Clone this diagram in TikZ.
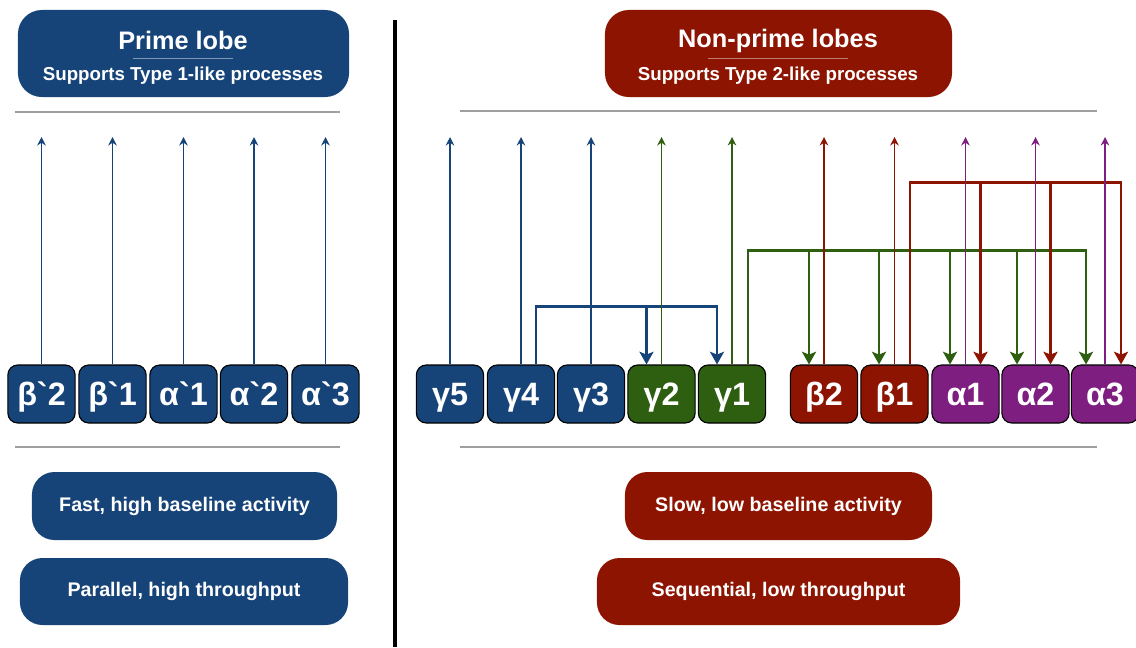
\documentclass[tikz,border=0pt]{standalone}
\usepackage{fontspec}
\setmainfont{Liberation Sans}
\usetikzlibrary{calc,arrows.meta}
\definecolor{lobeblue}{RGB}{22,68,120}
\definecolor{lobered}{RGB}{140,20,0}
\definecolor{lobegreen}{RGB}{46,94,16}
\definecolor{lobepurple}{RGB}{125,30,128}

\tikzset{
  cell/.style={draw=black, line width=0.8pt, rounded corners=7pt, minimum width=1.68cm, minimum height=1.45cm,
    inner sep=0pt, text depth=0pt, text=white, font=\fontsize{23}{23}\selectfont\bfseries},
  headbox/.style={rounded corners=17pt, minimum height=2.175cm, inner sep=0pt},
  headtitle/.style={anchor=base, text=white, font=\fontsize{18}{18}\selectfont\bfseries},
  headsub/.style={anchor=base, text=white, font=\fontsize{13.3}{13.3}\selectfont\bfseries},
  pill/.style={rounded corners=16pt, inner sep=0pt, text=white, font=\fontsize{14}{14}\selectfont\bfseries},
  sepline/.style={draw=gray!75, line width=1.5pt},
  outarrow/.style={-{Stealth[length=6pt,width=6pt]}, line width=1pt},
  drive/.style={-{Stealth[length=9pt,width=10pt,inset=2pt]}, line width=2pt}
}

\begin{document}
\begin{tikzpicture}[x=0.025cm, y=-0.025cm]
  \useasboundingbox (0,0) rectangle (1136,647);

  % divider
  \draw[line width=2.2pt] (395,20) -- (395,647);

  % headers
  \node[headbox, fill=lobeblue, minimum width=8.275cm] (prime) at (183.5,53.5) {};
  \node[headtitle] (primetitle) at (183,49) {Prime lobe};
  \draw[white!45!lobeblue, line width=0.6pt] (133,58) -- (233,58);
  \node[headsub] (primesub) at (183,80) {Supports Type 1-like processes};

  \node[headbox, fill=lobered, minimum width=8.675cm] (nonprime) at (778.5,53.5) {};
  \node[headtitle] (nonprimetitle) at (778,47) {Non-prime lobes};
  \draw[white!45!lobered, line width=0.6pt] (708,58) -- (848,58);
  \node[headsub] (nonprimesub) at (778,80) {Supports Type 2-like processes};

  % rules
  \draw[sepline] (15,112) -- (340,112);
  \draw[sepline] (460,111) -- (1097,111);
  \draw[sepline] (15,447) -- (340,447);
  \draw[sepline] (460,447) -- (1097,447);

  % lobes
  \foreach \n/\x/\t in {pb2/41.5/β\textasciigrave 2, pb1/112.5/β\textasciigrave 1, pa1/183.5/α\textasciigrave 1,
      pa2/254/α\textasciigrave 2, pa3/325.5/α\textasciigrave 3}
    \node[cell, fill=lobeblue] (\n) at (\x,394) {\t};
  \foreach \n/\x/\c/\t in {g5/450/lobeblue/γ5, g4/521/lobeblue/γ4, g3/591/lobeblue/γ3,
      g2/661.5/lobegreen/γ2, g1/732/lobegreen/γ1, b2/824/lobered/β2, b1/894.5/lobered/β1,
      a1/965.5/lobepurple/α1, a2/1035.5/lobepurple/α2, a3/1105/lobepurple/α3}
    \node[cell, fill=\c] (\n) at (\x,394) {\t};

  % gamma 4 -> gamma 2, gamma 1
  \draw[drive, lobeblue] ($(g4.north)+(15,0)$) -- ++(0,-58) -| ($(g1.north)+(-15,0)$);
  \draw[drive, lobeblue] ($(g2.north)+(-15,-58)$) -- ($(g2.north)+(-15,0)$);

  % gamma 1 -> beta, alpha
  \draw[drive, lobegreen] ($(g1.north)+(16,0)$) -- ++(0,-114) -| ($(a3.north)+(-19,0)$);
  \foreach \n/\d in {b2/-15, b1/-15.5, a1/-15.5, a2/-18.5}
    \draw[drive, lobegreen] ($(\n.north)+(\d,-114)$) -- ($(\n.north)+(\d,0)$);

  % beta 1 -> alpha
  \draw[drive, lobered] ($(b1.north)+(15.5,0)$) -- ++(0,-182) -| ($(a3.north)+(16,0)$);
  \foreach \n in {a1, a2}
    \draw[drive, lobered] ($(\n.north)+(15,-182)$) -- ($(\n.north)+(15,0)$);

  % outputs
  \coordinate (top) at (0,137);
  \foreach \n in {pb2, pb1, pa1, pa2, pa3, g5, g4, g3}
    \draw[outarrow, lobeblue] (\n.north) -- (\n.north |- top);
  \foreach \n in {g2, g1}
    \draw[outarrow, lobegreen] (\n.north) -- (\n.north |- top);
  \foreach \n in {b2, b1}
    \draw[outarrow, lobered] (\n.north) -- (\n.north |- top);
  \foreach \n in {a1, a2, a3}
    \draw[outarrow, lobepurple] (\n.north) -- (\n.north |- top);

  % properties
  \node[pill, fill=lobeblue, minimum width=7.625cm, minimum height=1.7cm] (fast) at (184.5,506) {Fast, high baseline activity};
  \node[pill, fill=lobeblue, minimum width=8.2cm, minimum height=1.675cm] (parallel) at (184,591.5) {Parallel, high throughput};
  \node[pill, fill=lobered, minimum width=7.675cm, minimum height=1.7cm] (slow) at (778.5,506) {Slow, low baseline activity};
  \node[pill, fill=lobered, minimum width=9.075cm, minimum height=1.675cm] (sequential) at (778.5,591.5) {Sequential, low throughput};
\end{tikzpicture}
\end{document}
